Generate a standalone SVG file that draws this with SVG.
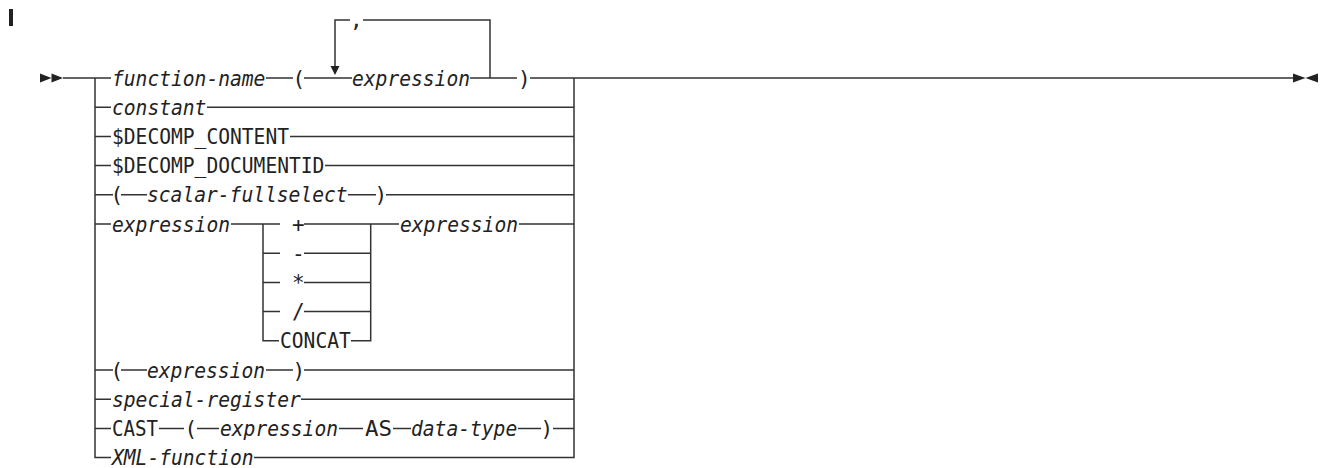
<svg xmlns="http://www.w3.org/2000/svg" width="1321" height="468" viewBox="0 0 1321 468">
<style>
text{font-family:"DejaVu Sans Mono","Liberation Mono",monospace;font-size:21px;fill:#222}
.v{font-style:italic}
.c{fill:none;stroke:#333;stroke-width:1.5}
.m{fill:#222}
</style>
<rect width="1321" height="468" fill="#fff"/>
<rect x="9" y="9" width="4" height="17" fill="#222"/>
<g id="connectors" class="c">
<path d="M63,78H111M266,78H293M304,78H352M470,78H517M530,78H1293"/>
<path d="M490,78V20H363M350,20H335V67"/>
<path d="M95,78V457.6H111M254,457.6H574V78"/>
<path d="M95,107.2H111M207,107.2H574"/>
<path d="M95,136.4H111M290,136.4H574"/>
<path d="M95,165.6H111M325,165.6H574"/>
<path d="M95,194.8H113M121,194.8H147M348,194.8H376M386,194.8H574"/>
<path d="M95,224H111M231,224H280M304,224H399M519,224H574"/>
<path d="M263,224V340.8H279M351,340.8H370.7V224"/>
<path d="M263,253.2H280M304,253.2H370.7"/>
<path d="M263,282.4H280M304,282.4H370.7"/>
<path d="M263,311.6H280M304,311.6H370.7"/>
<path d="M95,370H113M121,370H147M266,370H293M304,370H574"/>
<path d="M95,399.2H111M301,399.2H574"/>
<path d="M95,428.4H111M159,428.4H184M197,428.4H219M339,428.4H363M393,428.4H411M518,428.4H541M553,428.4H574"/>
<polygon class="m" stroke="none" points="330.5,66 339.5,66 335,75"/>
<polygon class="m" stroke="none" points="40,73.5 51.5,78 40,82.5"/>
<polygon class="m" stroke="none" points="51.5,73.5 63,78 51.5,82.5"/>
<polygon class="m" stroke="none" points="1293,73.5 1305.5,78 1293,82.5"/>
<polygon class="m" stroke="none" points="1318,73.5 1305.5,78 1318,82.5"/>
</g>
<g id="n-function-name"><text class="v" x="112" y="85.5" textLength="153.4" lengthAdjust="spacingAndGlyphs">function-name</text><text x="292.5" y="85.5">(</text><text x="518" y="85.5">)</text></g>
<g id="n-loop-sep"><text x="350" y="27">,</text></g>
<g id="n-loop-expression"><text class="v" x="352" y="85.5" textLength="118" lengthAdjust="spacingAndGlyphs">expression</text></g>
<g id="n-constant"><text class="v" x="112" y="114.7" textLength="94.4" lengthAdjust="spacingAndGlyphs">constant</text></g>
<g id="n-decomp-content"><text x="112" y="143.9" textLength="177" lengthAdjust="spacingAndGlyphs">$DECOMP_CONTENT</text></g>
<g id="n-decomp-documentid"><text x="112" y="173.1" textLength="212.4" lengthAdjust="spacingAndGlyphs">$DECOMP_DOCUMENTID</text></g>
<g id="n-scalar-fullselect"><text x="110.6" y="202.3">(</text><text class="v" x="147" y="202.3" textLength="200.6" lengthAdjust="spacingAndGlyphs">scalar-fullselect</text><text x="374.5" y="202.3">)</text></g>
<g id="n-expression-op"><text class="v" x="112" y="231.5" textLength="118" lengthAdjust="spacingAndGlyphs">expression</text><text class="v" x="400" y="231.5" textLength="118" lengthAdjust="spacingAndGlyphs">expression</text></g>
<g id="n-plus"><text x="292" y="231.5">+</text></g>
<g id="n-minus"><text x="292" y="260.7">-</text></g>
<g id="n-times"><text x="292" y="289.9">*</text></g>
<g id="n-div"><text x="292" y="319.1">/</text></g>
<g id="n-concat"><text x="280" y="348.3" textLength="70.8" lengthAdjust="spacingAndGlyphs">CONCAT</text></g>
<g id="n-paren-expression"><text x="110.6" y="377.5">(</text><text class="v" x="147" y="377.5" textLength="118" lengthAdjust="spacingAndGlyphs">expression</text><text x="292.5" y="377.5">)</text></g>
<g id="n-special-register"><text class="v" x="112" y="406.7" textLength="188.8" lengthAdjust="spacingAndGlyphs">special-register</text></g>
<g id="n-cast"><text x="112" y="435.9" textLength="46" lengthAdjust="spacingAndGlyphs">CAST</text><text x="184.6" y="435.9">(</text><text class="v" x="220" y="435.9" textLength="118" lengthAdjust="spacingAndGlyphs">expression</text><text x="365" y="435.9" textLength="27" lengthAdjust="spacingAndGlyphs">AS</text><text class="v" x="411" y="435.9" textLength="106.2" lengthAdjust="spacingAndGlyphs">data-type</text><text x="540.6" y="435.9">)</text></g>
<g id="n-xml-function"><text class="v" x="112" y="465.1" textLength="141.6" lengthAdjust="spacingAndGlyphs">XML-function</text></g>
</svg>
